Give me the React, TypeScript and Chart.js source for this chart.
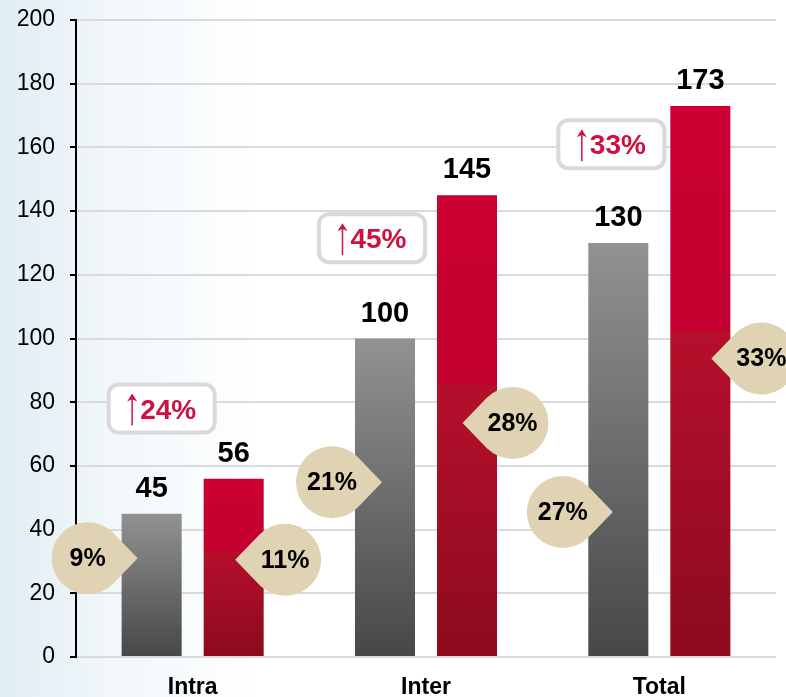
import React, { useEffect, useRef } from 'react';
import { Chart, registerables } from 'chart.js';

Chart.register(...registerables);

// ---- data ----
const categories = ['Intra', 'Inter', 'Total'];
const seriesBefore = [45, 100, 130];
const seriesAfter = [56, 145, 173];
const growthLabels = ['24%', '45%', '33%'];
const growthAt = [78, 131.5, 161];
const shareBeforeLabels = ['9%', '21%', '27%'];
const shareBeforeAt = [31, 54.9, 45.5];
const shareAfterLabels = ['11%', '28%', '33%'];
const shareAfterAt = [30.5, 73.5, 93.7];
const yMin = 0;
const yMax = 200;
const yStep = 20;

// ---- layout offsets (px) ----
const growthDx = [-31, -54, -48];
const bubbleBeforeDx = [-64, -53, -55.5];
const bubbleAfterDx = [51.5, 45.5, 61];

const FONT = '"Liberation Sans", Arial, sans-serif';

function barSpan(ctx: any): [number, number] | null {
  const chart = ctx.chart;
  const y = chart?.scales?.y;
  if (!y || ctx.raw == null) return null;
  const top = y.getPixelForValue(ctx.raw);
  const bottom = y.getPixelForValue(0);
  if (!isFinite(top) || !isFinite(bottom) || top === bottom) return null;
  return [top, bottom];
}

function grayGradient(ctx: any) {
  const span = barSpan(ctx);
  if (!span) return '#6b6b6b';
  const g = ctx.chart.ctx.createLinearGradient(0, span[0], 0, span[1]);
  g.addColorStop(0, '#929292');
  g.addColorStop(1, '#474747');
  return g;
}

function redGradient(ctx: any) {
  const span = barSpan(ctx);
  if (!span) return '#b00020';
  const g = ctx.chart.ctx.createLinearGradient(0, span[0], 0, span[1]);
  g.addColorStop(0, '#cc0033');
  g.addColorStop(0.41, '#c2002f');
  g.addColorStop(0.41, '#b50f2c');
  g.addColorStop(1, '#8c0b1c');
  return g;
}

function drawBubble(c: CanvasRenderingContext2D, cx: number, cy: number, dir: number, text: string) {
  const r = 36;
  const d = 50;
  const theta = dir > 0 ? 0 : Math.PI;
  const alpha = Math.acos(r / d);
  const tipX = cx + dir * d;
  const tipY = cy;
  c.save();
  c.beginPath();
  c.moveTo(tipX, tipY);
  c.arc(cx, cy, r, theta + alpha, theta - alpha + Math.PI * 2, false);
  c.closePath();
  c.fillStyle = '#dfd3b3';
  c.fill();
  c.fillStyle = '#000';
  c.font = `bold 25px ${FONT}`;
  c.textAlign = 'center';
  c.textBaseline = 'middle';
  c.fillText(text, cx, cy + 1);
  c.restore();
}

function drawCallout(c: CanvasRenderingContext2D, cx: number, cy: number, text: string) {
  const w = 106;
  const h = 48;
  c.save();
  c.beginPath();
  const x = cx - w / 2;
  const y = cy - h / 2;
  const r = 10;
  c.moveTo(x + r, y);
  c.arcTo(x + w, y, x + w, y + h, r);
  c.arcTo(x + w, y + h, x, y + h, r);
  c.arcTo(x, y + h, x, y, r);
  c.arcTo(x, y, x + w, y, r);
  c.closePath();
  c.fillStyle = '#ffffff';
  c.fill();
  c.lineWidth = 4;
  c.strokeStyle = '#d9d9d9';
  c.stroke();

  const color = '#cf1040';
  c.font = `bold 28px ${FONT}`;
  const tw = c.measureText(text).width;
  const aw = 10;
  const gap = 3;
  const total = aw + gap + tw;
  const x0 = cx - total / 2;
  const base = cy + 10;
  const ax = x0 + aw / 2;
  const aTop = base - 25;
  const aBot = base + 7;
  c.strokeStyle = color;
  c.fillStyle = color;
  c.lineWidth = 1.5;
  c.beginPath();
  c.moveTo(ax, aTop + 4);
  c.lineTo(ax, aBot);
  c.stroke();
  c.beginPath();
  c.moveTo(ax, aTop);
  c.lineTo(ax + aw / 2, aTop + 8);
  c.lineTo(ax + 0.8, aTop + 6);
  c.lineTo(ax - 0.8, aTop + 6);
  c.lineTo(ax - aw / 2, aTop + 8);
  c.closePath();
  c.fill();
  c.textAlign = 'left';
  c.textBaseline = 'alphabetic';
  c.fillText(text, x0 + aw + gap, base);
  c.restore();
}

const annotations = {
  id: 'annotations',
  afterDatasetsDraw(chart: any) {
    const c: CanvasRenderingContext2D = chart.ctx;
    const xs = chart.scales.x;
    const ys = chart.scales.y;
    const m0 = chart.getDatasetMeta(0);
    const m1 = chart.getDatasetMeta(1);
    c.save();
    c.font = `bold 29px ${FONT}`;
    c.fillStyle = '#000';
    c.textAlign = 'center';
    c.textBaseline = 'alphabetic';
    m0.data.forEach((bar: any, i: number) => {
      c.fillText(String(seriesBefore[i]), bar.x, bar.y - 17);
    });
    m1.data.forEach((bar: any, i: number) => {
      c.fillText(String(seriesAfter[i]), bar.x, bar.y - 17);
    });
    c.restore();
    m0.data.forEach((bar: any, i: number) => {
      drawBubble(c, bar.x + bubbleBeforeDx[i], ys.getPixelForValue(shareBeforeAt[i]), 1, shareBeforeLabels[i]);
    });
    m1.data.forEach((bar: any, i: number) => {
      drawBubble(c, bar.x + bubbleAfterDx[i], ys.getPixelForValue(shareAfterAt[i]), -1, shareAfterLabels[i]);
    });
    categories.forEach((_, i) => {
      drawCallout(c, xs.getPixelForValue(i) + growthDx[i], ys.getPixelForValue(growthAt[i]), growthLabels[i]);
    });
  },
};

export default function App() {
  const ref = useRef<HTMLCanvasElement | null>(null);
  useEffect(() => {
    if (!ref.current) return;
    const chart = new Chart(ref.current, {
      type: 'bar',
      data: {
        labels: categories,
        datasets: [
          {
            label: 'Before',
            data: seriesBefore,
            backgroundColor: grayGradient as any,
            barPercentage: 0.732,
            categoryPercentage: 0.703,
          },
          {
            label: 'After',
            data: seriesAfter,
            backgroundColor: redGradient as any,
            barPercentage: 0.732,
            categoryPercentage: 0.703,
          },
        ],
      },
      options: {
        responsive: false,
        animation: false,
        devicePixelRatio: 1,
        layout: { padding: { top: 20, right: 10, left: 0, bottom: 0 } },
        plugins: {
          legend: { display: false },
          tooltip: { enabled: false },
        },
        scales: {
          x: {
            grid: { display: false, drawTicks: false },
            border: { display: false },
            ticks: {
              color: '#000',
              padding: 17,
              font: { family: FONT, size: 23, weight: 'bold' },
            },
            afterFit: (s: any) => {
              s.height = 40;
              s.paddingLeft = 0;
              s.paddingRight = 0;
            },
          },
          y: {
            min: yMin,
            max: yMax,
            ticks: {
              stepSize: yStep,
              color: '#000',
              padding: 15,
              font: { family: FONT, size: 23 },
            },
            grid: {
              color: '#dadada',
              lineWidth: 2,
              tickColor: '#000',
              tickLength: 6,
            },
            border: { color: '#000', width: 2 },
            afterFit: (s: any) => {
              s.width = 76;
              s.paddingTop = 0;
              s.paddingBottom = 0;
            },
          },
        },
      },
      plugins: [annotations],
    });
    return () => chart.destroy();
  }, []);
  return (
    <div
      style={{
        position: 'fixed',
        left: 0,
        top: 0,
        width: 786,
        height: 697,
        overflow: 'hidden',
        background: 'linear-gradient(to right, #e1edf5 0px, #f1f7fa 110px, #ffffff 260px)',
      }}
    >
      <canvas ref={ref} width={786} height={697} style={{ display: 'block' }} />
    </div>
  );
}
